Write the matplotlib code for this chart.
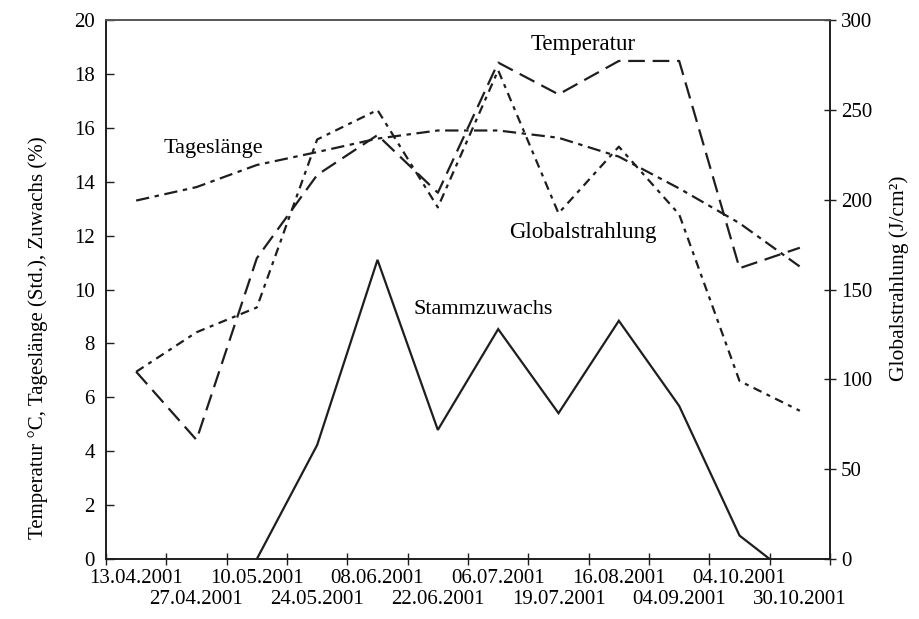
import matplotlib
matplotlib.use("Agg")
import matplotlib.pyplot as plt
import numpy as np

plt.rcParams['font.family'] = ['Liberation Serif', 'DejaVu Serif']
plt.rcParams['font.size'] = 15

dates = ["13.04.2001", "27.04.2001", "10.05.2001", "24.05.2001", "08.06.2001",
         "22.06.2001", "06.07.2001", "19.07.2001", "16.08.2001", "04.09.2001",
         "04.10.2001", "30.10.2001"]
temperatur = [6.95, 4.42, 11.16, 14.25, 15.73, 13.59, 18.42, 17.24, 18.48, 18.48, 10.79, 11.55]
tageslaenge = [13.3, 13.8, 14.62, 15.1, 15.6, 15.9, 15.9, 15.63, 14.93, 13.75, 12.46, 10.85]
stammzuwachs = [np.nan, np.nan, 0.0, 4.23, 11.1, 4.79, 8.53, 5.41, 8.84, 5.68, 0.87, -0.87]
globalstrahlung = [104.2, 126.2, 140.0, 233.5, 249.9, 195.7, 272.0, 192.4, 229.5, 191.8, 99.1, 82.5]

left_ticks = list(range(0, 21, 2))
right_ticks = list(range(0, 301, 50))

ink = "#1e1e1e"
fig = plt.figure(figsize=(9.2, 6.19), dpi=100)
ax = fig.add_axes([0.1152, 0.0969, 0.7870, 0.8708])
ax2 = ax.twinx()

x = np.arange(len(dates))
lw = 1.6
ax.plot(x, temperatur, color=ink, lw=lw, dashes=(7.5, 3.5))
ax.plot(x, tageslaenge, color=ink, lw=lw, dashes=(6, 2.5, 2, 2.5))
ax.plot(x, stammzuwachs, color=ink, lw=lw, solid_joinstyle='miter')
ax2.plot(x, globalstrahlung, color=ink, lw=lw, dashes=(4, 2.5, 1.8, 2.5))

ax.set_xlim(-0.5, len(dates) - 0.5)
ax.set_ylim(0, 20)
ax2.set_ylim(0, 300)

# major ticks at category boundaries (no labels)
ax.set_xticks(np.arange(-0.5, len(dates), 1.0))
ax.set_xticklabels([])
ax.tick_params(axis='x', which='major', direction='inout', length=8, width=1, color=ink)

# first row of date labels (even categories)
even = x[0::2]
ax.set_xticks(even, minor=True)
ax.set_xticklabels([dates[i] for i in even], minor=True)
ax.tick_params(axis='x', which='minor', length=0, pad=7, labelsize=15)

# second row of date labels (odd categories)
odd = x[1::2]
sec = ax.secondary_xaxis('bottom')
sec.set_xticks(odd)
sec.set_xticklabels([dates[i] for i in odd])
sec.tick_params(axis='x', length=0, pad=22, labelsize=15)
sec.spines['bottom'].set_visible(False)

ax.set_yticks(left_ticks)
ax.tick_params(axis='y', direction='in', length=6, width=1, color=ink, pad=8)
ax2.set_yticks(right_ticks)
ax2.tick_params(axis='y', direction='inout', length=8, width=1, color=ink, pad=4)

for a in (ax, ax2):
    for s in a.spines.values():
        s.set_color(ink)
        s.set_linewidth(1.2)
ax.spines['top'].set_color("#555555")
ax2.spines['top'].set_color("#555555")

ax.set_ylabel("Temperatur °C, Tageslänge (Std.), Zuwachs (%)", fontsize=15)
ax.yaxis.set_label_coords(-0.08, 0.41)
ax2.set_ylabel("Globalstrahlung (J/cm²)", fontsize=15.5)
ax2.yaxis.set_label_coords(1.082, 0.52)

ax.text(0.149, 0.761, "Tageslänge", transform=ax.transAxes, ha='center', va='center', fontsize=16)
ax.text(0.659, 0.954, "Temperatur", transform=ax.transAxes, ha='center', va='center', fontsize=16.5)
ax.text(0.659, 0.605, "Globalstrahlung", transform=ax.transAxes, ha='center', va='center', fontsize=16.5)
ax.text(0.521, 0.462, "Stammzuwachs", transform=ax.transAxes, ha='center', va='center', fontsize=16)

fig.savefig("out.png", dpi=100)
